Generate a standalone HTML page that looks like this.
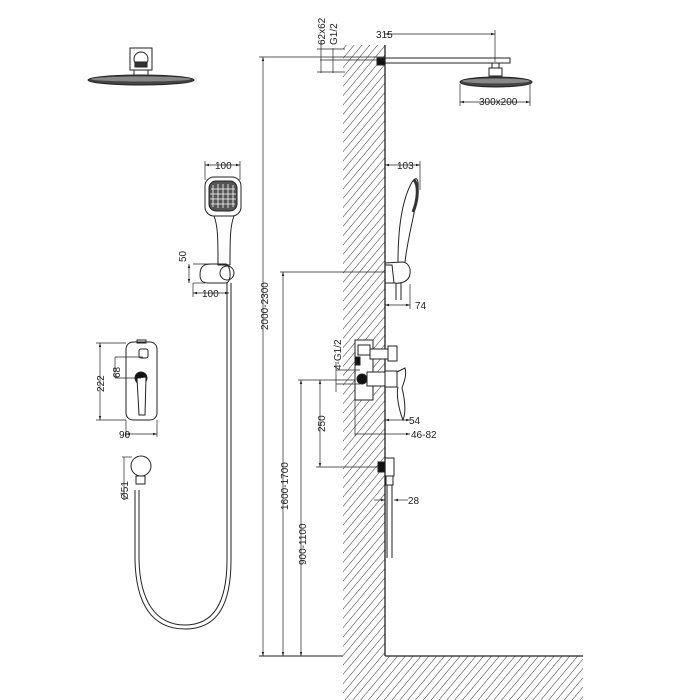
<!DOCTYPE html>
<html><head><meta charset="utf-8"><style>
html,body{margin:0;padding:0;background:#fff}
svg{display:block}
text{font-family:"Liberation Sans",sans-serif;font-size:10px;fill:#222}
</style></head><body>
<svg width="700" height="700" viewBox="0 0 700 700" xmlns="http://www.w3.org/2000/svg">
<defs>
<pattern id="h" patternUnits="userSpaceOnUse" width="6" height="6" patternTransform="rotate(40)">
<line x1="0" y1="0" x2="0" y2="6" stroke="#333" stroke-width="1"/>
</pattern>
<marker id="a" viewBox="0 0 10 10" refX="10" refY="5" markerWidth="6" markerHeight="6" orient="auto-start-reverse"><path d="M0,2 L10,5 L0,8z" fill="#222"/></marker>
</defs>
<g stroke="#222" fill="none" stroke-width="1">
<rect x="343" y="45" width="42" height="611" fill="url(#h)" stroke="none"/>
<rect x="343" y="656" width="240" height="44" fill="url(#h)" stroke="none"/>
<line x1="385" y1="45" x2="385" y2="656" stroke-width="1.3"/>
<line x1="385" y1="656" x2="583" y2="656" stroke-width="1.3"/>
<line x1="259" y1="656" x2="343" y2="656"/>
<line x1="263" y1="57" x2="263" y2="656" marker-start="url(#a)" marker-end="url(#a)" stroke-width="0.7"/>
<line x1="259" y1="57" x2="385" y2="57" stroke-width="0.7"/>
<line x1="283" y1="272" x2="283" y2="656" marker-start="url(#a)" marker-end="url(#a)" stroke-width="0.7"/>
<line x1="280" y1="272" x2="385" y2="272" stroke-width="0.7"/>
<line x1="301" y1="380" x2="301" y2="656" marker-start="url(#a)" marker-end="url(#a)" stroke-width="0.7"/>
<line x1="298" y1="380" x2="360" y2="380" stroke-width="0.7"/>
<line x1="320" y1="380" x2="320" y2="467" marker-start="url(#a)" marker-end="url(#a)" stroke-width="0.7"/>
<line x1="316" y1="467" x2="380" y2="467" stroke-width="0.7"/>
<rect x="377" y="58" width="8" height="7" fill="#111"/>
<rect x="385" y="58" width="125" height="5"/>
<line x1="385" y1="34" x2="495" y2="34" marker-start="url(#a)" marker-end="url(#a)" stroke-width="0.7"/>
<line x1="495" y1="30" x2="495" y2="62" stroke-width="0.7"/>
<rect x="492" y="63" width="7" height="5"/>
<rect x="489" y="68" width="13" height="8"/>
<ellipse cx="496" cy="82" rx="36" ry="5" fill="#444"/>
<ellipse cx="496" cy="81" rx="34" ry="2.5" fill="#888" stroke="none"/>
<line x1="460" y1="102" x2="530" y2="102" marker-start="url(#a)" marker-end="url(#a)" stroke-width="0.7"/>
<line x1="460" y1="84" x2="460" y2="106" stroke-width="0.7"/><line x1="530" y1="84" x2="530" y2="106" stroke-width="0.7"/>
<line x1="320" y1="60" x2="385" y2="60" stroke-width="0.7"/>
<line x1="321" y1="40" x2="321" y2="73" stroke-width="0.7"/>
<line x1="333" y1="48" x2="333" y2="73" stroke-width="0.7"/>
<line x1="317" y1="49" x2="345" y2="49" stroke-width="0.7"/>
<line x1="317" y1="72" x2="345" y2="72" stroke-width="0.7"/>
<line x1="385" y1="165" x2="420" y2="165" marker-start="url(#a)" marker-end="url(#a)" stroke-width="0.7"/>
<line x1="420" y1="161" x2="420" y2="190" stroke-width="0.7"/>
<path d="M398,262 C398,230 402,200 412,182 C416,176 419,178 418,190 C416,210 408,235 405,262" />
<path d="M414,180 C419,185 418,200 413,212" stroke-width="3" stroke="#333"/>
<path d="M385,263 L402,262 C408,262 411,268 410,274 C409,281 402,284 394,283 L385,283" />
<path d="M385,265 L392,265 L394,283"/>
<line x1="396" y1="283" x2="396" y2="300"/><line x1="401" y1="283" x2="401" y2="300"/>
<line x1="385" y1="305" x2="410" y2="305" marker-start="url(#a)" marker-end="url(#a)" stroke-width="0.7"/>
<line x1="410" y1="284" x2="410" y2="309" stroke-width="0.7"/>
<rect x="355" y="340" width="18" height="60" fill="#fff"/>
<rect x="358" y="345" width="12" height="10"/>
<rect x="370" y="349" width="18" height="10" fill="#fff"/>
<rect x="388" y="346" width="9" height="15" fill="#fff"/>
<circle cx="362" cy="379" r="5" fill="#111"/>
<rect x="367" y="372" width="18" height="14" fill="#fff"/>
<rect x="385" y="371" width="12" height="16" fill="#fff"/>
<path d="M397,372 L405,368 C407,375 404,382 402,388 C405,400 406,412 403,420 C399,410 396,395 398,387"/>
<rect x="356" y="357" width="4" height="8" fill="#111"/>
<line x1="385" y1="420" x2="410" y2="420" marker-start="url(#a)" marker-end="url(#a)" stroke-width="0.7"/>
<line x1="355" y1="434" x2="410" y2="434" marker-end="url(#a)" stroke-width="0.7"/>
<line x1="355" y1="400" x2="355" y2="436" stroke-width="0.7"/>
<line x1="336" y1="370" x2="360" y2="370" stroke-width="0.7"/>
<line x1="336" y1="384" x2="360" y2="384" stroke-width="0.7"/>
<line x1="336" y1="362" x2="336" y2="392" stroke-width="0.7"/>
<rect x="378" y="462" width="7" height="10" fill="#111"/>
<rect x="385" y="458" width="9" height="18"/>
<rect x="386" y="476" width="7" height="9"/>
<line x1="387" y1="485" x2="387" y2="558"/><line x1="392" y1="485" x2="392" y2="558"/>
<line x1="374" y1="500" x2="385" y2="500" marker-end="url(#a)" stroke-width="0.7"/>
<line x1="408" y1="500" x2="394" y2="500" marker-end="url(#a)" stroke-width="0.7"/>
<rect x="130" y="48" width="22" height="22"/>
<circle cx="141" cy="59" r="7"/>
<rect x="135" y="62" width="12" height="5" fill="#333"/>
<rect x="134" y="70" width="14" height="6"/>
<ellipse cx="141" cy="80" rx="53" ry="5" fill="#444"/>
<ellipse cx="141" cy="79" rx="50" ry="2.5" fill="#888" stroke="none"/>
<line x1="205" y1="165" x2="240" y2="165" marker-start="url(#a)" marker-end="url(#a)" stroke-width="0.7"/>
<line x1="205" y1="161" x2="205" y2="180" stroke-width="0.7"/><line x1="240" y1="161" x2="240" y2="180" stroke-width="0.7"/>
<rect x="205" y="177" width="36" height="39" rx="9"/>
<rect x="209" y="181" width="28" height="30" rx="7" fill="#555"/>
<g stroke="#fff" stroke-width="0.8">
<line x1="213" y1="185" x2="213" y2="207"/><line x1="218" y1="184" x2="218" y2="208"/><line x1="223" y1="184" x2="223" y2="208"/><line x1="228" y1="184" x2="228" y2="208"/><line x1="233" y1="185" x2="233" y2="207"/>
<line x1="211" y1="189" x2="235" y2="189"/><line x1="210" y1="194" x2="236" y2="194"/><line x1="210" y1="199" x2="236" y2="199"/><line x1="211" y1="204" x2="235" y2="204"/>
</g>
<path d="M214,216 C218,226 218,240 218,265 L230,265 C230,240 230,226 234,216"/>
<path d="M200,275 C200,265 205,264 212,264 L226,264 C231,266 232,282 226,283 L208,283 C202,283 200,280 200,275z"/>
<circle cx="227" cy="273" r="7"/>
<line x1="193" y1="264" x2="212" y2="264" stroke-width="0.7"/>
<line x1="193" y1="283" x2="205" y2="283" stroke-width="0.7"/>
<line x1="189" y1="264" x2="189" y2="283" marker-start="url(#a)" marker-end="url(#a)" stroke-width="0.7"/>
<line x1="193" y1="293" x2="229" y2="293" marker-start="url(#a)" marker-end="url(#a)" stroke-width="0.7"/>
<line x1="193" y1="283" x2="193" y2="297" stroke-width="0.7"/>
<path d="M227,283 L227,560 C227,600 215,625 185,625 C155,625 140,600 139,560 L139,490"/>
<path d="M231,283 L231,560 C231,604 218,629 185,629 C152,629 136,604 135,560 L135,490"/>
<rect x="126" y="342" width="31" height="78" rx="7"/>
<rect x="137" y="340" width="9" height="3"/>
<rect x="139" y="349" width="9" height="9" rx="2"/>
<circle cx="141" cy="378" r="6" fill="#111"/>
<path d="M137,378 L146,377 L145,415 L139,415z" fill="#fff"/>
<line x1="96" y1="343" x2="126" y2="343" stroke-width="0.7"/>
<line x1="96" y1="420" x2="126" y2="420" stroke-width="0.7"/>
<line x1="100" y1="343" x2="100" y2="420" marker-start="url(#a)" marker-end="url(#a)" stroke-width="0.7"/>
<line x1="115" y1="357" x2="143" y2="357" stroke-width="0.7"/>
<line x1="115" y1="378" x2="141" y2="378" stroke-width="0.7"/>
<line x1="115" y1="357" x2="115" y2="378" stroke-width="0.7"/>
<line x1="126" y1="420" x2="126" y2="437" stroke-width="0.7"/><line x1="157" y1="420" x2="157" y2="437" stroke-width="0.7"/>
<line x1="126" y1="434" x2="157" y2="434" marker-start="url(#a)" marker-end="url(#a)" stroke-width="0.7"/>
<circle cx="141" cy="466" r="10"/>
<rect x="136" y="476" width="9" height="8"/>
<line x1="122" y1="457" x2="132" y2="457" stroke-width="0.7"/>
<line x1="124" y1="457" x2="124" y2="500" stroke-width="0.7"/>
</g>
<text x="376" y="38" >315</text>
<text x="479" y="105">300x200</text>
<text x="397" y="169">103</text>
<text x="415" y="309">74</text>
<text x="409" y="424">54</text>
<text x="411" y="438">46-82</text>
<text x="408" y="504">28</text>
<text x="215" y="169">100</text>
<text x="202" y="297">100</text>
<text x="119" y="438">90</text>
<text transform="translate(268,330) rotate(-90)">2000-2300</text>
<text transform="translate(288,510) rotate(-90)">1600-1700</text>
<text transform="translate(306,565) rotate(-90)">900-1100</text>
<text transform="translate(325,432) rotate(-90)">250</text>
<text transform="translate(341,370) rotate(-90)">4-G1/2</text>
<text transform="translate(325,45) rotate(-90)">62x62</text>
<text transform="translate(337,45) rotate(-90)">G1/2</text>
<text transform="translate(186,262) rotate(-90)">50</text>
<text transform="translate(104,392) rotate(-90)">222</text>
<text transform="translate(120,378) rotate(-90)">68</text>
<text transform="translate(128,500) rotate(-90)">Ø51</text>
</svg>
</body></html>
